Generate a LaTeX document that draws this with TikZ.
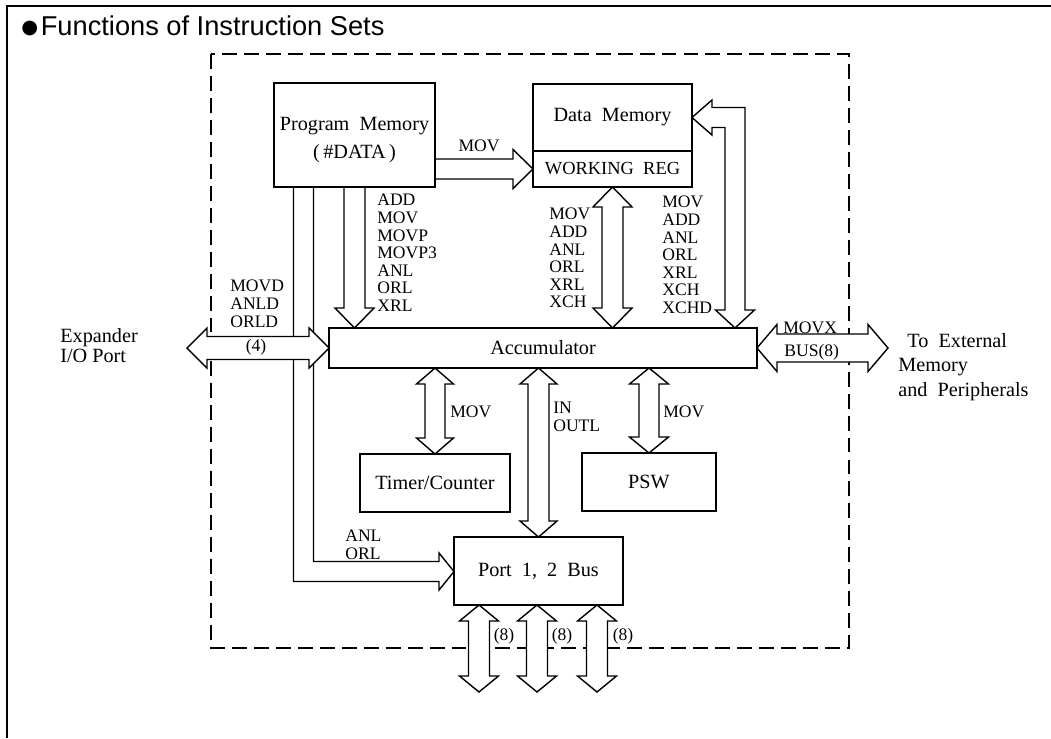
\documentclass[tikz,border=0pt]{standalone}
\usepackage{fontspec}
\setmainfont{Liberation Serif}
\newfontfamily\headfont{Liberation Sans}
\newfontfamily\symfont{DejaVu Sans}
\usetikzlibrary{calc,backgrounds}

% hollow block arrows: shaft half width, head half width, head length, from, to
\newcommand{\vbus}[5]{%
  \draw[bus] #4 -- ($#4+(#2,#3)$) -- ($#4+(#1,#3)$)
    -- ($#5+(#1,-#3)$) -- ($#5+(#2,-#3)$) -- #5
    -- ($#5+(-#2,-#3)$) -- ($#5+(-#1,-#3)$)
    -- ($#4+(-#1,#3)$) -- ($#4+(-#2,#3)$) -- cycle;}
\newcommand{\hbus}[5]{%
  \draw[bus] #4 -- ($#4+(#3,-#2)$) -- ($#4+(#3,-#1)$)
    -- ($#5+(-#3,-#1)$) -- ($#5+(-#3,-#2)$) -- #5
    -- ($#5+(-#3,#2)$) -- ($#5+(-#3,#1)$)
    -- ($#4+(#3,#1)$) -- ($#4+(#3,#2)$) -- cycle;}
% one head only, tail -> tip
\newcommand{\vone}[5]{%
  \draw[bus] ($#4+(-#1,0)$) -- ($#5+(-#1,-#3)$) -- ($#5+(-#2,-#3)$) -- #5
    -- ($#5+(#2,-#3)$) -- ($#5+(#1,-#3)$) -- ($#4+(#1,0)$);}
\newcommand{\hone}[5]{%
  \draw[bus] ($#4+(0,-#1)$) -- ($#5+(-#3,-#1)$) -- ($#5+(-#3,-#2)$) -- #5
    -- ($#5+(-#3,#2)$) -- ($#5+(-#3,#1)$) -- ($#4+(0,#1)$);}

\begin{document}
\begin{tikzpicture}[x=0.02cm, y=-0.02cm,
    unit/.style={draw, line width=1.1pt, inner sep=0pt, outer sep=0pt,
      font=\fontsize{11.5}{15}\selectfont, align=center},
    ops/.style={inner sep=0pt, font=\fontsize{10}{10}\selectfont, align=left},
    bus/.style={draw, fill=white, line width=0.8pt, line join=miter},
    chip/.style={line width=0.7pt, dash pattern=on 8.5pt off 4pt}]
  \useasboundingbox (0,0) rectangle (1051,738);
  \draw[line width=1pt] (7,738) -- (7,6) -- (1051,6);
  \node[anchor=base west, inner sep=0pt, font=\headfont\fontsize{15.5}{18}\selectfont]
    (title) at (21,35) {\raisebox{0.8pt}{\symfont\fontsize{11}{11}\selectfont ●}\hspace{1.5pt}Functions of Instruction Sets};

  % blocks
  \node[unit, minimum width=3.22cm, minimum height=2.08cm] (pm) at (354.5,135)
    {\rule{0pt}{13.6pt}Program\ \ Memory\\[1pt](\,\#DATA\,)};
  \node[unit, minimum width=3.18cm, minimum height=1.34cm] (dm) at (612.5,117.5) {Data\ \ Memory};
  \node[unit, minimum width=3.18cm, minimum height=0.72cm, font=\fontsize{10.5}{12}\selectfont]
    (wr) at (612.5,169) {WORKING\ \ REG};
  \node[unit, minimum width=8.56cm, minimum height=0.8cm] (acc) at (543,348) {Accumulator};
  \node[unit, minimum width=3cm, minimum height=1.16cm] (tc) at (435,483) {Timer/Counter};
  \node[unit, minimum width=2.68cm, minimum height=1.16cm] (psw) at (649,482) {PSW};
  \node[unit, minimum width=3.38cm, minimum height=1.36cm] (port) at (538.5,571)
    {Port\ \ 1,\ \ 2\ \ Bus};

  % free ends and bends
  \coordinate (exp) at (187,348);
  \coordinate (ext) at (888,348);
  \coordinate (pbend) at (303.5,571.5);
  \coordinate (dbend) at (735,117.5);
  \foreach \i/\x in {1/479,2/537,3/597}
    \coordinate (b\i) at (\x,692);

  \begin{pgfonlayer}{background}
    \draw[chip] (211,54) rectangle (849,648);
    % program memory to port (bent)
    \draw[bus] ($(pm.south -| pbend)+(-10,0)$) -- ($(pbend)+(-10,10)$)
      -- ($(port.west |- pbend)+(-15,10)$) -- ($(port.west |- pbend)+(-15,18.5)$)
      -- (port.west |- pbend) -- ($(port.west |- pbend)+(-15,-18.5)$)
      -- ($(port.west |- pbend)+(-15,-10)$) -- ($(pbend)+(10,-10)$)
      -- ($(pm.south -| pbend)+(10,0)$);
    % data memory to accumulator (bent)
    \draw[bus] (dm.east) -- ($(dm.east)+(20,-17.5)$) -- ($(dm.east)+(20,-10)$)
      -- ($(dbend)+(10,-10)$) -- ($(acc.north -| dbend)+(10,-18)$)
      -- ($(acc.north -| dbend)+(19.5,-18)$) -- (acc.north -| dbend)
      -- ($(acc.north -| dbend)+(-19.5,-18)$) -- ($(acc.north -| dbend)+(-10,-18)$)
      -- ($(dbend)+(-10,10)$) -- ($(dm.east)+(20,10)$) -- ($(dm.east)+(20,17.5)$) -- cycle;
    \vone{10.5}{19.5}{20}{(pm.south)}{(acc.north -| pm.south)}
    \hone{10}{19.5}{20}{(pm.east |- wr.west)}{(wr.west)}
    \vbus{10.5}{19.5}{20}{(wr.south)}{(acc.north -| wr.south)}
    \vbus{10}{18.5}{16}{(acc.south -| tc.north)}{(tc.north)}
    \vbus{10.5}{18.5}{16}{(acc.south -| port.north)}{(port.north)}
    \vbus{10}{19.5}{16}{(acc.south -| psw.north)}{(psw.north)}
    \hbus{11.5}{20}{20}{(exp)}{(acc.west)}
    \hbus{14}{23.5}{20}{(acc.east)}{(ext)}
    \foreach \b in {b1,b2,b3} {
      \vbus{10.5}{19.5}{16}{(port.south -| \b)}{(\b)}
    }
  \end{pgfonlayer}

  % instruction labels
  \node[ops] (pmmov) at (479,146) {MOV};
  \node[ops, anchor=north west] (pmops) at (377,194) {ADD\\MOV\\MOVP\\MOVP3\\ANL\\ORL\\XRL};
  \node[ops, anchor=north west] (wrops) at (549,208) {MOV\\ADD\\ANL\\ORL\\XRL\\XCH};
  \node[ops, anchor=north west] (dmops) at (662,196) {MOV\\ADD\\ANL\\ORL\\XRL\\XCH\\XCHD};
  \node[ops, anchor=north west] (expops) at (230,280) {MOVD\\ANLD\\ORLD};
  \node[ops] (four) at (256,347) {(4)};
  \node[ops, anchor=west] (movx) at (783,328) {MOVX};
  \node[ops, anchor=west] (bus8) at (784,352) {BUS(8)};
  \node[ops, anchor=west] (tcmov) at (450,412) {MOV};
  \node[ops, anchor=north west] (inout) at (553,402) {IN\\OUTL};
  \node[ops, anchor=west] (pswmov) at (663,412) {MOV};
  \node[ops, anchor=north west] (anlorl) at (345,530) {ANL\\ORL};
  \foreach \i/\x in {1/504,2/562,3/623}
    \node[ops] (eight\i) at (\x,636) {(8)};

  % outside
  \node[ops, anchor=north west, font=\fontsize{11.5}{11.5}\selectfont] (expl) at (60,328)
    {Expander\\I/O\ Port};
  \node[ops, anchor=north west, font=\fontsize{11.5}{14}\selectfont] (extl) at (898,333)
    {\hspace*{0.45em}To\ \ External\\Memory\\and\ \ Peripherals};
\end{tikzpicture}
\end{document}
